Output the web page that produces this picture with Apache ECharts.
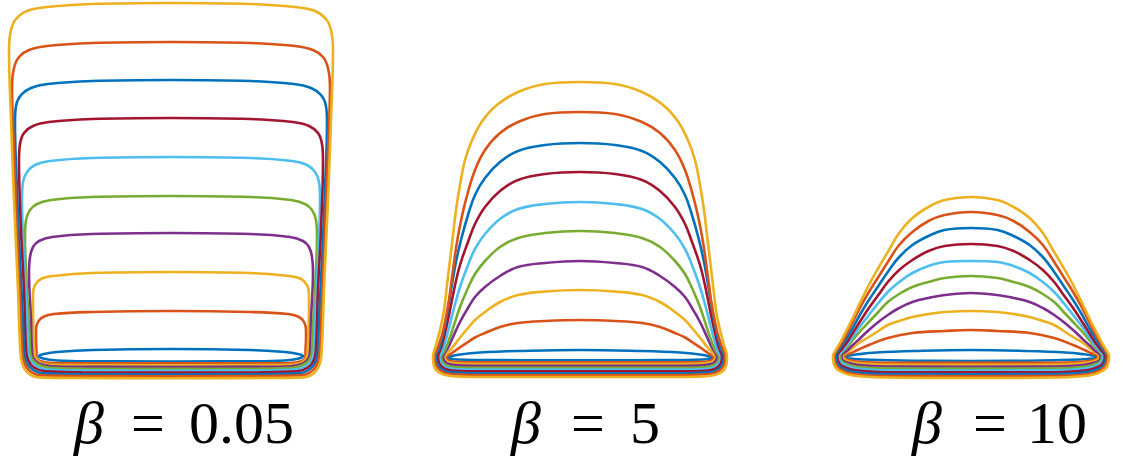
<!DOCTYPE html>
<html>
<head>
<meta charset="utf-8">
<script src="https://cdn.jsdelivr.net/npm/echarts@6/dist/echarts.min.js"></script>
<style>
  html, body { margin: 0; padding: 0; background: #ffffff; }
  #chart { width: 1127px; height: 459px; }
</style>
</head>
<body>
<div id="chart"></div>
<script>
// Drop profiles, right half only: [offset from the drop axis, height above the contact line].
// Each list runs from the apex down the right flank to the bottom centre; the left half is its mirror.
// Ten profiles per panel, smallest volume first.

const betaLabels = ['0.05', '5', '10'];

const lineColors = ['#0072BD', '#D95319', '#EDB120', '#7E2F8E', '#77AC30',
                    '#4DBEEE', '#A2142F', '#0072BD', '#D95319', '#EDB120'];

// beta = 0.05
const profilesBeta005 = [
  [[0,8],[79,7],[114,5],[127,3],[132,1],[128,-1.5],[114,-3.5],[79,-4.3],[0,-4.5]],
  [[0,46],[79,45],[117,43],[128,40],[133,35],[135,27],[135,17],[134.5,7],[134.5,0],[131,-4],[120,-6],[89,-6.3],[0,-6.4]],
  [[0,85],[79,84],[118,81],[130,78],[136,72],[138,63],[138,49],[137,12],[136.5,3],[134,-3],[128,-6.5],[118,-7.9],[89,-8.1],[0,-8.2]],
  [[0,124],[79,123],[119,120],[132,116],[138,110],[141,100],[142,85],[140,37],[139,6],[137.5,-1.5],[132,-6.5],[120,-9.2],[89,-9.8],[0,-10]],
  [[0,161],[79,160],[120,157],[134,153],[141,147],[145,137],[146,121],[144,67],[141.5,22],[141,6],[139,-2],[133,-7.5],[122,-10.8],[89,-11.6],[0,-11.9]],
  [[0,200],[79,199],[121,196],[136,192],[144,185],[148,175],[149,159],[147,97],[144,37],[143,7],[141,-2],[135,-9],[124,-12.6],[89,-13.5],[0,-13.8]],
  [[0,239],[79,238],[122,235],[138,231],[147,224],[151,213],[152,197],[150,127],[147,67],[145,8],[143,-3],[137,-10.5],[126,-14.4],[89,-15.3],[0,-15.6]],
  [[0,277],[79,276],[123,273],[140,269],[150,262],[155,251],[156,235],[154,167],[151,97],[148,37],[147,9],[145,-4],[139,-12],[128,-16.4],[89,-17.2],[0,-17.5]],
  [[0,315],[79,314],[124,311],[142,307],[152,300],[157,289],[159,272],[157,207],[154,127],[151,57],[149,10],[147,-5],[141,-14],[130,-18.4],[89,-19],[0,-19.3]],
  [[0,354],[79,353],[124,350],[144,346],[155,338],[160,327],[162,309],[160,237],[157,157],[153,67],[151,12],[149,-6],[143,-16],[132,-20.4],[89,-21],[0,-21.2]]
];

// beta = 5
const profilesBeta5 = [
  [[0,7],[60,6],[100,4.5],[120,2.5],[130,0.5],[132,-0.5],[130,-1.8],[115,-2.8],[60,-3.2],[0,-3.3]],
  [[0,37],[35,36],[62,34],[80,30],[95,24],[105,19.5],[112,15],[121,9],[128,4],[131.5,1.5],[133.7,0],[133,-2.2],[130,-4],[120,-5],[100,-5.2],[0,-5.2]],
  [[0,67],[35,65.5],[62,62],[80,55],[95,45],[105,37],[112,29],[121,18],[128,9],[132.5,4],[135.4,0],[134.5,-2.8],[131,-5.2],[121,-6.6],[100,-7],[0,-7]],
  [[0,96],[35,94],[62,90],[80,81],[95,70],[105,60],[112,49],[120,35],[127,20],[132,9],[137,0],[136,-3.5],[132,-6.7],[122,-8.4],[100,-8.9],[0,-8.9]],
  [[0,126],[35,124],[62,119],[80,110],[95,96],[105,83],[112,69],[120,50],[126,32],[131,17],[135,7],[139,0],[138,-4.5],[134,-8.3],[124,-10.2],[100,-10.7],[0,-10.7]],
  [[0,155],[35,153],[62,148],[80,138],[95,123],[105,108],[112,92],[120,70],[126,49],[131,29],[135,14],[137.5,6],[140.5,0],[139.5,-5],[135,-9.7],[125,-12],[100,-12.6],[0,-12.6]],
  [[0,185],[35,183],[62,177],[80,166],[95,150],[105,133],[112,115],[120,92],[126,67],[131,42],[135,24],[138.5,10],[142,0],[141,-6],[136,-11.3],[126,-13.8],[100,-14.4],[0,-14.4]],
  [[0,214],[35,212],[62,206],[80,195],[95,179],[105,162],[112,142],[119,117],[124,95],[129,67],[133,42],[137,22],[140.5,9],[144,0],[142.5,-7],[137.5,-12.8],[127,-15.6],[100,-16.3],[0,-16.3]],
  [[0,245],[35,243],[62,235],[80,224],[95,207],[105,187],[112,165],[118,141],[123,115],[127,87],[131,57],[135,35],[138,22],[142,10],[145.5,0],[144,-8],[139,-14],[128,-17.3],[100,-18.1],[0,-18.1]],
  [[0,275],[35,273],[62,265],[82,253],[97,237],[107,219],[115,197],[120,172],[124,147],[127,122],[130,97],[133,72],[136,47],[140,27],[144,12],[147,0],[146,-9],[141,-15.5],[130,-19],[100,-20],[0,-20]]
];

// beta = 10
const profilesBeta10 = [
  [[0,7],[60,6],[100,4.5],[120,2.7],[130,1.2],[132.5,0.2],[130,-1.2],[115,-2.5],[60,-3.8],[0,-4]],
  [[0,27],[28,26],[62,24],[88,19],[108,12],[120,7],[128,3.5],[134,1],[133,-1.5],[127,-3.5],[115,-5],[90,-5.7],[0,-5.9]],
  [[0,46],[28,45],[45,43],[62,40],[76,36],[88,32],[98,26],[108,20],[117,15],[125,9],[130.5,5],[135.5,1],[134.5,-2],[129,-4.5],[118,-6.2],[90,-7.6],[0,-7.8]],
  [[0,64],[28,62],[45,59],[62,55],[76,49],[88,42],[98,35],[108,27],[117,19],[125,12],[131,6.5],[137,1],[136,-3],[131,-5.5],[119,-8],[90,-9.5],[0,-9.7]],
  [[0,81],[28,79],[45,75],[62,70],[76,63],[88,55],[98,45],[108,35],[117,26],[125,17],[131,10],[138.5,1],[137.5,-3.5],[132.5,-6.8],[120,-9.8],[90,-11.4],[0,-11.6]],
  [[0,96],[28,95],[45,91],[62,84],[76,75],[88,65],[98,54],[108,42],[117,31],[125,20],[131,12],[135.5,6.5],[140,1],[139,-4],[134,-8],[121,-11.5],[90,-13.3],[0,-13.5]],
  [[0,113],[28,111],[45,106],[62,97],[76,87],[88,75],[98,62],[108,49],[117,36],[125,24],[131,15],[136.5,8],[141.5,1],[140.5,-4.5],[135.5,-9.5],[122,-13.3],[90,-15.2],[0,-15.4]],
  [[0,129],[28,127],[45,121],[62,112],[76,100],[88,85],[98,71],[108,57],[117,43],[125,29],[132,18],[137.5,10],[143,1],[142,-5],[137,-11],[123,-15],[90,-17],[0,-17.3]],
  [[0,145],[28,142],[45,136],[62,125],[76,112],[88,95],[98,80],[108,65],[117,50],[125,35],[132,22],[138,12],[144.5,1],[143.5,-6],[138,-12.5],[124,-17],[90,-19],[0,-19.2]],
  [[0,160],[28,157],[45,150],[62,139],[76,124],[88,105],[98,89],[108,72],[117,55],[125,39],[132,26],[138,15],[143,7],[146,1],[145,-7],[139,-14],[125,-18.5],[90,-20.5],[0,-21]]
];

const panels = [profilesBeta005, profilesBeta5, profilesBeta10];
const panelLeft = [6, 415, 815];      // grid left edge per panel, px
// Left edges of the label pieces per panel: italic beta, "=", value.
const betaSymbolLeft = [69, 506, 907];
const equalsLeft = [126, 566, 968];
const valueLeft = [184, 625, 1022];
const labelTop = 392;
const labelFont = 'Liberation Serif';
const labelSize = 60;

// Close a half profile into a full loop that starts and ends at the bottom centre,
// so the apex sits inside the smoothed path: mirrored left flank up to the apex, then the right flank down.
function closedLoop(half) {
  const left = half.slice().reverse().map(p => [-p[0], p[1]]);
  return left.concat(half.slice(1));
}

function labelPiece(text, x, italic) {
  const textStyle = { fontFamily: labelFont, fontSize: labelSize, fontWeight: 'normal', color: '#000' };
  if (italic) textStyle.fontStyle = 'italic';
  return { text: text, left: x, top: labelTop, textStyle: textStyle };
}

function buildOption() {
  const grids = [], xAxes = [], yAxes = [], series = [], titles = [];
  panels.forEach((profiles, pi) => {
    grids.push({ left: panelLeft[pi], top: 0, width: 330, height: 400 });
    xAxes.push({ type: 'value', gridIndex: pi, min: -165, max: 165, show: false });
    yAxes.push({ type: 'value', gridIndex: pi, min: -43, max: 357, show: false });
    profiles.forEach((half, k) => {
      series.push({
        type: 'line',
        xAxisIndex: pi,
        yAxisIndex: pi,
        data: closedLoop(half),
        smooth: 0.4,
        symbol: 'none',
        clip: false,
        silent: true,
        lineStyle: { color: lineColors[k], width: 2.6 }
      });
    });
    titles.push(labelPiece('β', betaSymbolLeft[pi], true));
    titles.push(labelPiece('=', equalsLeft[pi], false));
    titles.push(labelPiece(betaLabels[pi], valueLeft[pi], false));
  });
  return {
    animation: false,
    title: titles,
    grid: grids,
    xAxis: xAxes,
    yAxis: yAxes,
    series: series
  };
}

const chart = echarts.init(document.getElementById('chart'));
function render() { chart.setOption(buildOption(), true); }
render();

// Redraw once the serif faces are confirmed loaded, so the labels use them.
if (document.fonts && document.fonts.load) {
  Promise.all([
    document.fonts.load(labelSize + 'px "' + labelFont + '"', '= 0.05 10'),
    document.fonts.load('italic ' + labelSize + 'px "' + labelFont + '"', 'β')
  ]).then(render, render);
}
setTimeout(render, 300);
</script>
</body>
</html>
